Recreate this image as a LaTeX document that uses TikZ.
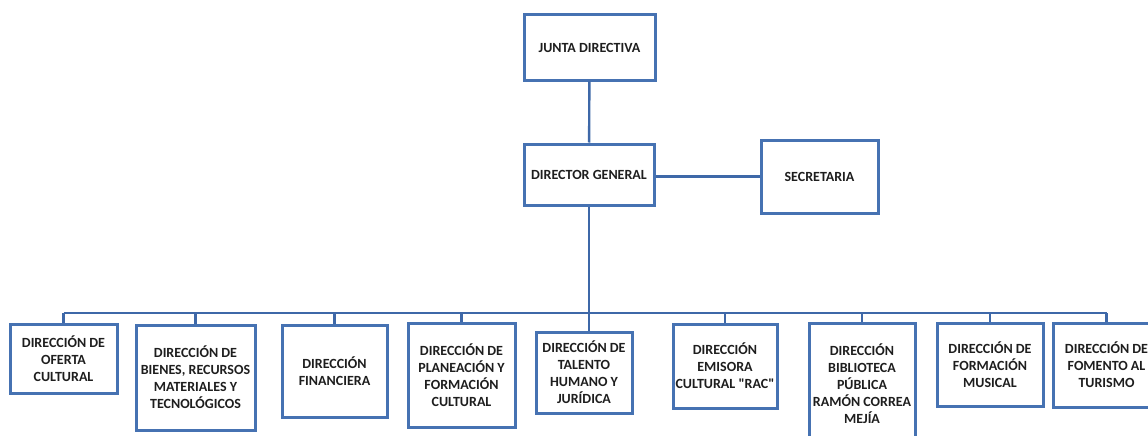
\documentclass[tikz,border=0pt]{standalone}
\usepackage{fontspec}
\setmainfont{Carlito}
\usepackage{tikz}
\usetikzlibrary{positioning,shadows}
\definecolor{boxblue}{RGB}{70,114,178}
\definecolor{linkblue}{RGB}{62,104,168}
\definecolor{labelgray}{RGB}{30,30,30}

\begin{document}
\begin{tikzpicture}[x=1pt,y=-1pt,
	orgbox/.style={draw=boxblue,line width=3pt,fill=white,align=center,inner sep=1pt,
		text=labelgray,font=\fontsize{14}{17}\selectfont\bfseries,
		drop shadow={opacity=0.25,shadow xshift=1.5pt,shadow yshift=-1.5pt}},
	link/.style={draw=linkblue,line width=2.4pt}]
	\useasboundingbox (0,0) rectangle (1148,436);
	\node[orgbox,minimum width=131pt,minimum height=65pt] (junta) at (589.5,47.5) {JUNTA DIRECTIVA};
	\node[orgbox,minimum width=130pt,minimum height=61pt] (dg) at (589,174.5) {DIRECTOR GENERAL};
	\node[orgbox,minimum width=117pt,minimum height=73pt] (sec) at (819.5,176.5) {SECRETARIA};
	\node[orgbox,minimum width=107pt,minimum height=69pt] (oferta) at (63.5,358.5) {DIRECCIÓN DE\\OFERTA\\CULTURAL};
	\node[orgbox,minimum width=119pt,minimum height=105pt] (bienes) at (195.5,377.5) {DIRECCIÓN DE\\BIENES, RECURSOS\\MATERIALES Y\\TECNOLÓGICOS};
	\node[orgbox,minimum width=105pt,minimum height=92pt] (finan) at (334.5,371) {DIRECCIÓN\\FINANCIERA};
	\node[orgbox,minimum width=107pt,minimum height=104pt] (planea) at (461.5,375) {DIRECCIÓN DE\\PLANEACIÓN Y\\FORMACIÓN\\CULTURAL};
	\node[orgbox,minimum width=96pt,minimum height=81pt] (talento) at (584,372.5) {DIRECCIÓN DE\\TALENTO\\HUMANO Y\\JURÍDICA};
	\node[orgbox,minimum width=104pt,minimum height=84pt] (emisora) at (725,366) {DIRECCIÓN\\EMISORA\\CULTURAL \textquotedbl RAC\textquotedbl};
	\node[orgbox,minimum width=106pt,minimum height=122pt] (biblio) at (862,384) {DIRECCIÓN\\BIBLIOTECA\\PÚBLICA\\RAMÓN CORREA\\MEJÍA};
	\node[orgbox,minimum width=106pt,minimum height=83pt] (musical) at (990,364.5) {DIRECCIÓN DE\\FORMACIÓN\\MUSICAL};
	\node[orgbox,minimum width=107pt,minimum height=84pt] (turismo) at (1106.5,365) {DIRECCIÓN DE\\FOMENTO AL\\TURISMO};
	\coordinate (bus) at (589,313);
	\draw[link] (junta) -- (dg);
	\draw[link] (dg.east |- sec.west) -- (sec.west);
	\draw[link] (dg) -- (dg |- talento.north);
	\draw[link] (oferta.north |- bus) -- (turismo.north |- bus);
	\foreach \b in {oferta,bienes,finan,planea,emisora,biblio,musical,turismo}
		\draw[link] (\b.north) -- (\b.north |- bus);
\end{tikzpicture}
\end{document}
